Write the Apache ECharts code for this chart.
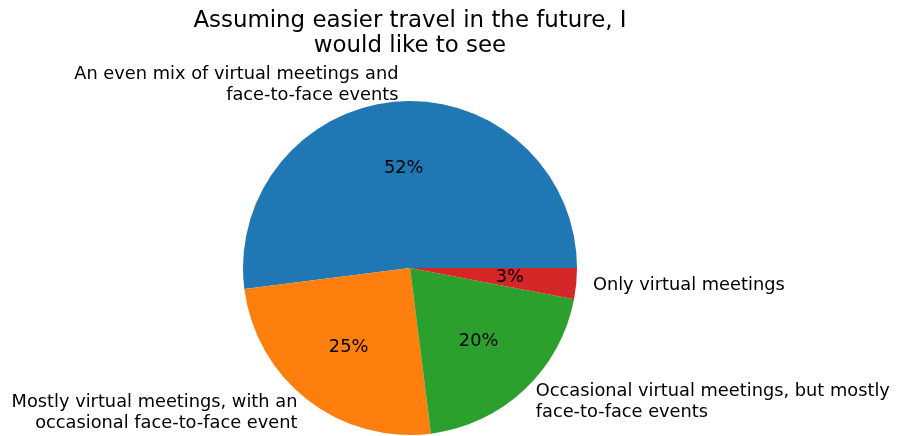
<!DOCTYPE html>
<html>
<head>
<meta charset="utf-8">
<script src="https://cdn.jsdelivr.net/npm/echarts@6/dist/echarts.min.js"></script>
<style>html,body{margin:0;padding:0;background:#fff}#c{width:897px;height:436px}</style>
</head>
<body>
<div id="c"></div>
<script>
const categories = [
  'An even mix of virtual meetings and\nface-to-face events',
  'Mostly virtual meetings, with an\noccasional face-to-face event',
  'Occasional virtual meetings, but mostly\nface-to-face events',
  'Only virtual meetings'
];
const values = [52, 25, 20, 3];
const colors = ['#1f77b4', '#ff7f0e', '#2ca02c', '#d62728'];
const titleText = 'Assuming easier travel in the future, I\nwould like to see';

const FONT = 'DejaVu Sans';
const LS = 17.8;
const R = 167;
const CX = 410, CY = 268;

const chart = echarts.init(document.getElementById('c'), null, {renderer: 'canvas'});
const data = categories.map((c, i) => ({name: c, value: values[i], itemStyle: {color: colors[i]}}));
chart.setOption({
  animation: false,
  backgroundColor: '#fff',
  title: {
    text: titleText,
    left: CX - 5, top: 4,
    textAlign: 'center',
    textStyle: {fontFamily: FONT, fontSize: 22.9, fontWeight: 'normal', color: '#000', lineHeight: 25, align: 'center'}
  },
  series: [
    {
      type: 'pie',
      center: [CX, CY],
      radius: [0, R],
      startAngle: 0,
      clockwise: false,
      avoidLabelOverlap: false,
      silent: true,
      data: data,
      label: {
        show: true,
        position: 'outside',
        formatter: '{b}',
        fontFamily: FONT, fontSize: LS, color: '#000', lineHeight: 21,
        distanceToLabelLine: 0
      },
      labelLine: {show: false, length: R * 0.1, length2: 0},
      emphasis: {disabled: true}
    },
    {
      type: 'pie',
      center: [CX, CY],
      radius: [0, R * 1.2 - 6],
      startAngle: 0,
      clockwise: false,
      avoidLabelOverlap: false,
      silent: true,
      data: categories.map((c, i) => ({name: c, value: values[i]})),
      itemStyle: {color: 'rgba(0,0,0,0)'},
      label: {
        show: true,
        position: 'inside',
        formatter: p => p.value + '%',
        fontFamily: FONT, fontSize: LS, color: '#000'
      },
      labelLine: {show: false},
      emphasis: {disabled: true}
    }
  ]
});
</script>
</body>
</html>
